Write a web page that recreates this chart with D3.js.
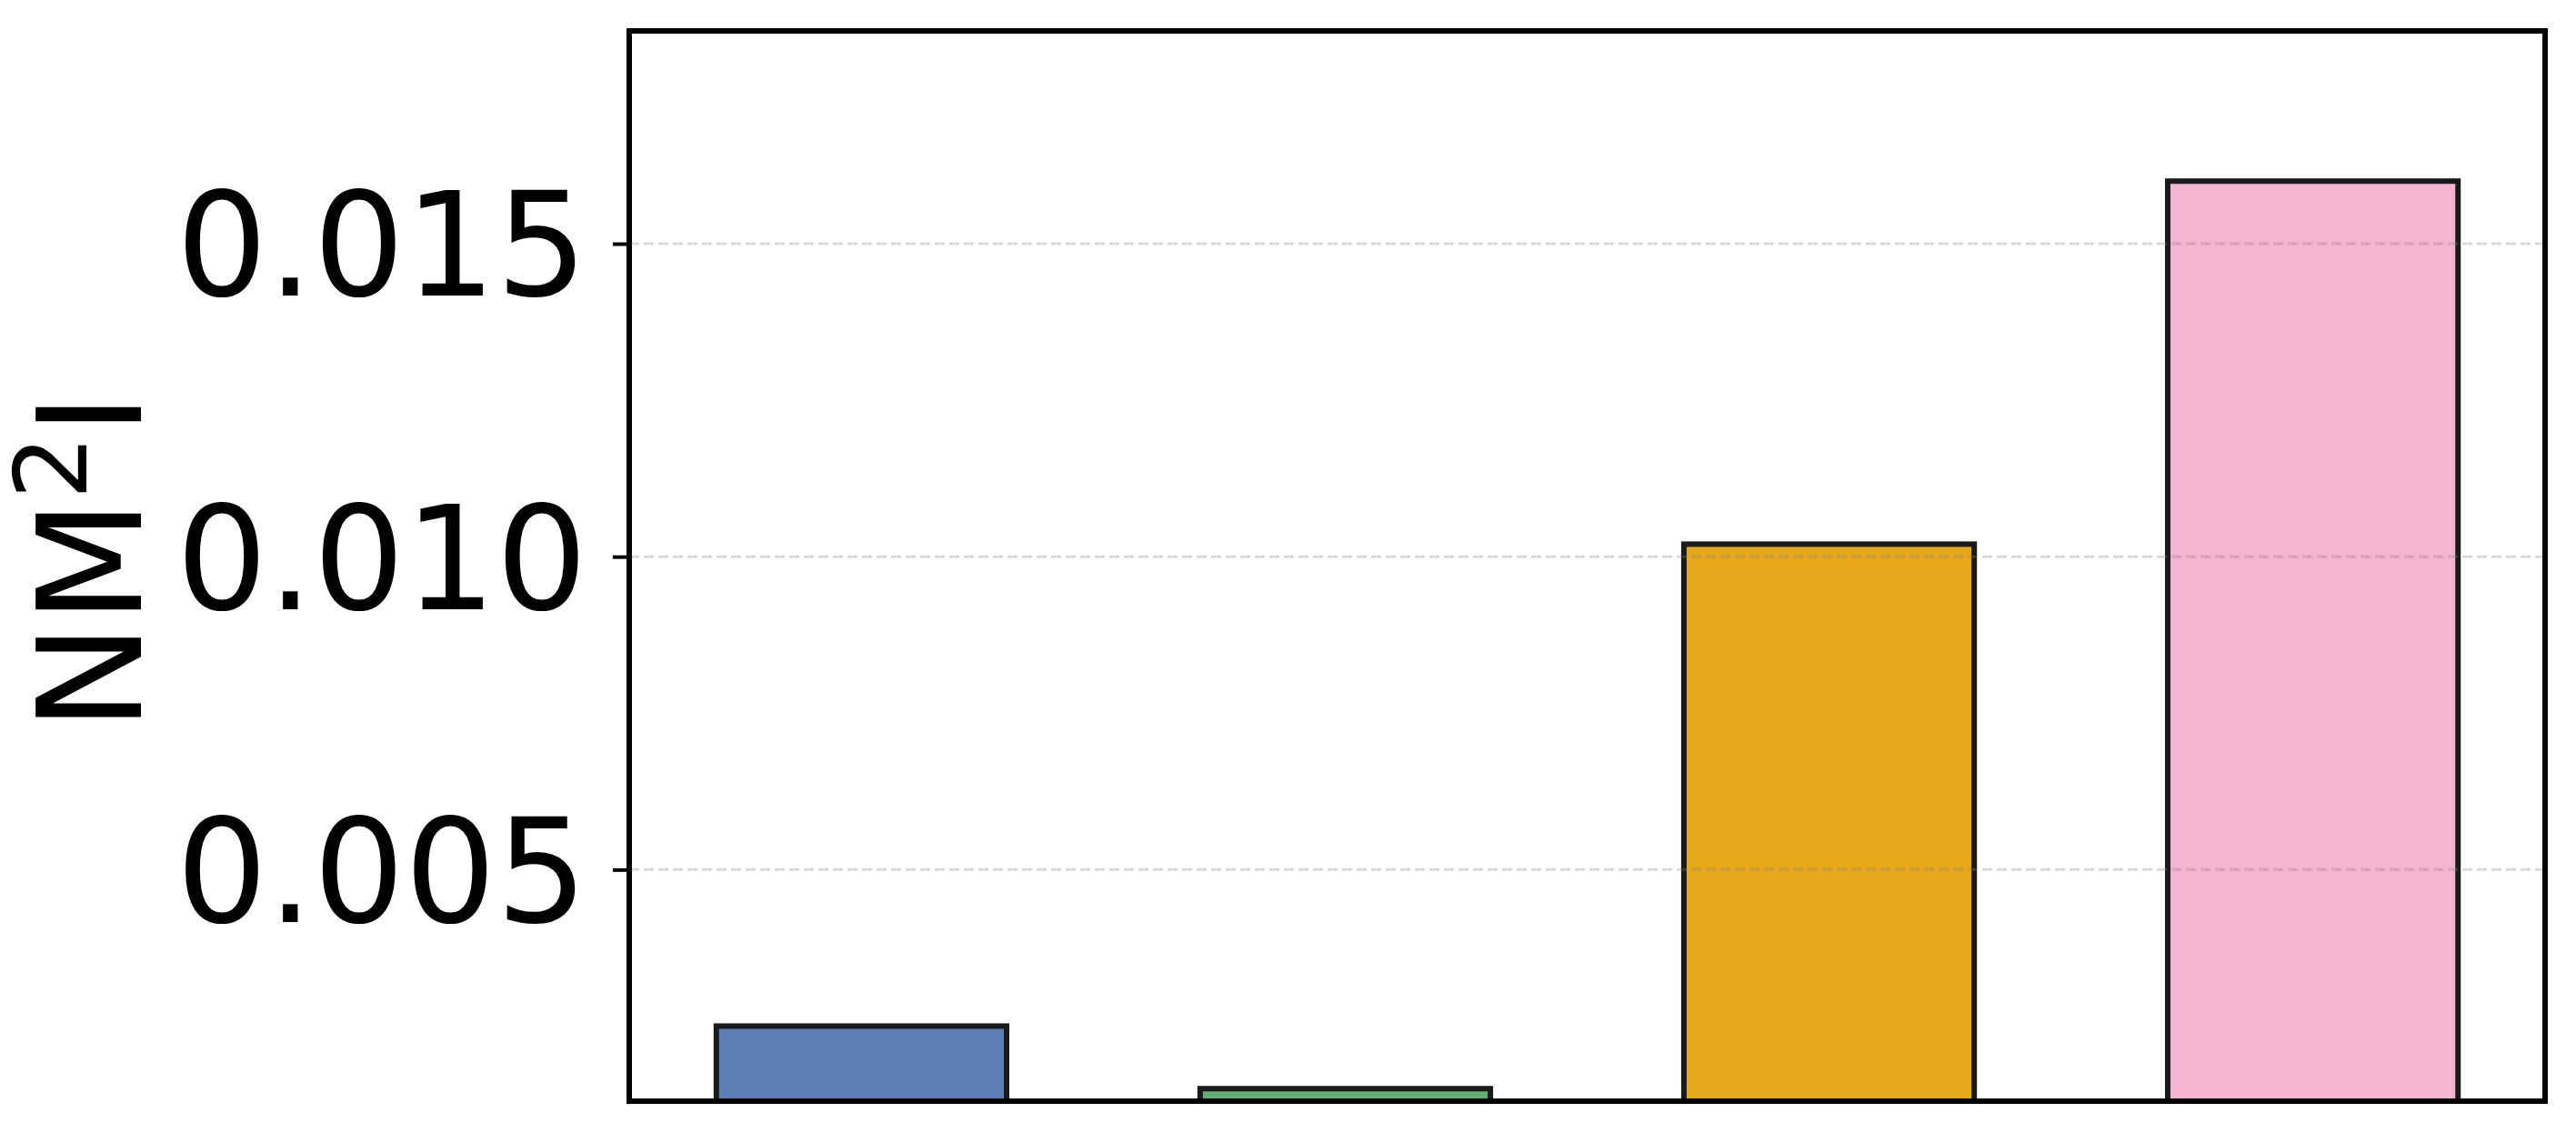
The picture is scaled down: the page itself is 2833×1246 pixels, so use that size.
<!DOCTYPE html>
<html>
<head>
<meta charset="utf-8">
<title>NM2I bars</title>
<script src="https://d3js.org/d3.v7.min.js"></script>
<style>
  body { margin: 0; background: #fff; }
  text { font-family: "DejaVu Sans", sans-serif; fill: #000; }
  .grid line { stroke: #808080; stroke-opacity: 0.3; stroke-width: 3; stroke-dasharray: 11,5; }
</style>
</head>
<body>
<div id="chart"></div>
<script>
// values
var categories = ["A", "B", "C", "D"];
var values = [0.00250, 0.00150, 0.01020, 0.01600];
var colors = ["#5e7fb5", "#62ae73", "#e6a91c", "#f3b5cf"];
var yTicks = [0.005, 0.010, 0.015];
var yDomain = [0.0013, 0.0184];

var width = 2833, height = 1246;
var margin = {left: 692, right: 34, top: 34, bottom: 35};

var svg = d3.select("#chart").append("svg")
    .attr("width", width)
    .attr("height", height);

var x = d3.scaleLinear()
    .domain([-0.48, categories.length - 1 + 0.48])
    .range([margin.left, width - margin.right]);

var y = d3.scaleLinear()
    .domain(yDomain)
    .range([height - margin.bottom, margin.top]);

var barW = 0.6;

svg.append("clipPath").attr("id", "plotClip")
  .append("rect")
    .attr("x", margin.left)
    .attr("y", margin.top)
    .attr("width", width - margin.left - margin.right)
    .attr("height", height - margin.top - margin.bottom);

// bars, from zero up, clipped to the axes
svg.append("g")
    .attr("clip-path", "url(#plotClip)")
  .selectAll("rect")
  .data(values)
  .enter().append("rect")
    .attr("x", function(d, i) { return x(i - barW / 2); })
    .attr("width", function(d, i) { return x(i + barW / 2) - x(i - barW / 2); })
    .attr("y", function(d) { return y(d); })
    .attr("height", function(d) { return y(0) - y(d); })
    .style("fill", function(d, i) { return colors[i]; })
    .style("stroke", "#1a1a1a")
    .style("stroke-width", 6);

// dashed grid on top of the bars
svg.append("g")
    .attr("class", "grid")
  .selectAll("line")
  .data(yTicks)
  .enter().append("line")
    .attr("x1", margin.left)
    .attr("x2", width - margin.right)
    .attr("y1", function(d) { return y(d); })
    .attr("y2", function(d) { return y(d); });

// y axis
var yAxis = d3.axisLeft(y)
    .tickValues(yTicks)
    .tickFormat(d3.format(".3f"))
    .tickSizeInner(18)
    .tickSizeOuter(0)
    .tickPadding(28);

var ga = svg.append("g")
    .attr("transform", "translate(" + margin.left + ",0)")
    .call(yAxis);
ga.select(".domain").remove();
ga.selectAll(".tick line").style("stroke", "#000").style("stroke-width", 4);
ga.selectAll(".tick text")
    .style("font-size", "158px")
    .style("font-family", "'DejaVu Sans', sans-serif")
    .attr("dy", "0.36em");

// frame
svg.append("rect")
    .attr("x", margin.left)
    .attr("y", margin.top)
    .attr("width", width - margin.left - margin.right)
    .attr("height", height - margin.top - margin.bottom)
    .style("fill", "none")
    .style("stroke", "#000")
    .style("stroke-width", 6);

// y label
var lab = svg.append("text")
    .attr("transform", "translate(155," + 618 + ") rotate(-90)")
    .attr("text-anchor", "middle")
    .style("font-size", "158px");
lab.append("tspan").text("NM");
lab.append("tspan").text("2").style("font-size", "111px").attr("dy", -60);
lab.append("tspan").text("I").attr("dy", 60);
</script>
</body>
</html>
